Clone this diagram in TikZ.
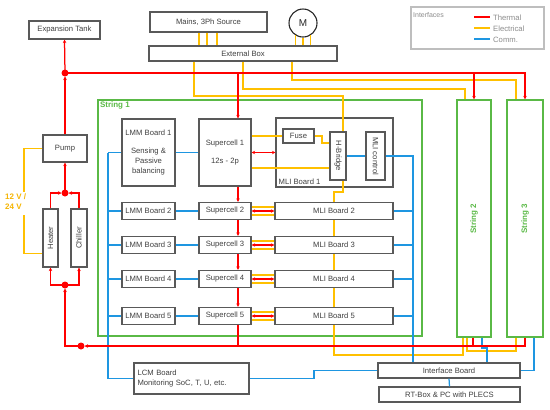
\documentclass[tikz,border=0pt]{standalone}
\usepackage{fontspec}
\usepackage{graphicx}
\setmainfont{Liberation Sans}
\usetikzlibrary{arrows.meta,calc}
\definecolor{txtc}{RGB}{64,64,64}
\definecolor{bordc}{RGB}{89,89,89}
\definecolor{thmc}{RGB}{255,0,0}
\definecolor{elec}{RGB}{255,192,0}
\definecolor{voltc}{RGB}{245,180,0}
\definecolor{comc}{RGB}{30,150,225}
\definecolor{grnc}{RGB}{90,185,70}
\definecolor{legc}{RGB}{140,140,140}
\definecolor{legb}{RGB}{190,190,190}
\begin{document}
\begin{tikzpicture}[x=1bp,y=-1bp,
 font=\fontsize{7.7}{10}\selectfont,
 box/.style={draw=bordc, line width=1.1bp, fill=white, text=txtc, inner sep=1pt, align=center},
 strbox/.style={draw=grnc, line width=1.2bp, text=grnc, inner sep=0pt, font=\fontsize{8}{10}\selectfont\bfseries},
 tl/.style={draw=thmc, line width=1.25bp},
 el/.style={draw=elec, line width=1.25bp},
 cl/.style={draw=comc, line width=1.25bp},
 legline/.style={line width=1.8bp},
 arrtip/.style={-{Stealth[length=3.5bp,width=3.5bp]}},
 darrtip/.style={{Stealth[length=3.5bp,width=3.5bp]}-{Stealth[length=3.5bp,width=3.5bp]}},
 jdot/.style={circle, fill=thmc, inner sep=0pt, minimum size=7bp},
]
\useasboundingbox (0,0) rectangle (550,409);

% helper coordinates
\coordinate (xr) at (238,0);
\coordinate (bb) at (108,0);
\coordinate (br) at (413,0);
\coordinate (ya) at (194,0);
\coordinate (yb) at (243,0);
\coordinate (yc) at (292,0);
\coordinate (yh) at (343,0);
\coordinate (ym) at (334,0);

% legend
\node[draw=legb, line width=1.1bp, fill=white, minimum width=133bp, minimum height=42bp, inner sep=0pt] (legend) at (477.5,28) {};
\coordinate (lgTs) at (474,17);
\coordinate (lgTe) at (490,17);
\coordinate (lgEs) at (474,28);
\coordinate (lgEe) at (490,28);
\coordinate (lgCs) at (474,39);
\coordinate (lgCe) at (490,39);
\draw[tl,legline] (lgTs) -- (lgTe);
\draw[el,legline] (lgEs) -- (lgEe);
\draw[cl,legline] (lgCs) -- (lgCe);
\node[anchor=west, text=legc, inner sep=0pt, font=\fontsize{7}{9}\selectfont] (lgI) at (413,15) {Interfaces};
\node[anchor=west, text=legc, inner sep=0pt] (lgT) at (493,17.5) {Thermal};
\node[anchor=west, text=legc, inner sep=0pt] (lgE) at (493,28.5) {Electrical};
\node[anchor=west, text=legc, inner sep=0pt] (lgC) at (493,39.5) {Comm.};

% top boxes
\node[box, minimum width=71bp, minimum height=18bp] (exp) at (64.5,30) {Expansion Tank};
\node[box, minimum width=117bp, minimum height=20bp] (mains) at (208.5,22) {Mains, 3Ph Source};
\node[circle, draw=black!85, line width=1.1bp, fill=white, text=black!85, minimum size=28bp, inner sep=0pt, font=\fontsize{10}{12}\selectfont] (m) at (303,23) {M};
\node[box, minimum width=188bp, minimum height=15bp] (ext) at (243,53.5) {External Box};

% thermal loop
\node[box, minimum width=44bp, minimum height=27bp] (pump) at (65,148.5) {Pump};
\node[box, minimum width=15bp, minimum height=58bp, inner sep=0pt] (heater) at (50.5,238) {\rotatebox{90}{Heater}};
\node[box, minimum width=16bp, minimum height=58bp, inner sep=0pt] (chiller) at (79,238) {\rotatebox{90}{Chiller}};
\node[text=voltc, font=\fontsize{8}{10}\selectfont\bfseries, align=left, anchor=west, inner sep=0pt] (volt) at (5,202) {12 V /\\24 V};
\coordinate (yv1) at (24,192);
\coordinate (yv2) at (24,215);

% strings
\node[draw=grnc, line width=1.2bp, minimum width=324bp, minimum height=236bp, inner sep=0pt] (s1) at (260,218) {};
\node[anchor=north west, text=grnc, inner sep=2.5pt, font=\fontsize{8}{10}\selectfont\bfseries] (s1lbl) at (s1.north west) {String 1};
\node[strbox, minimum width=34bp, minimum height=237bp] (s2) at (474,218.5) {\rotatebox{90}{String 2}};
\node[strbox, minimum width=36bp, minimum height=237bp] (s3) at (525,218.5) {\rotatebox{90}{String 3}};

% row 1
\node[box, minimum width=53bp, minimum height=67bp] (lmm1) at (148.5,152.5) {LMM Board 1\\[9pt]Sensing \&\\Passive\\balancing};
\node[box, minimum width=52bp, minimum height=67bp] (sc1) at (225,152.5) {Supercell 1\\[9pt]12s - 2p};
\node[box, minimum width=117bp, minimum height=69bp] (mli1) at (334.5,152.5) {};
\node[anchor=south west, text=txtc, inner sep=3pt] (mli1lbl) at (mli1.south west) {MLI Board 1};
\node[box, minimum width=31bp, minimum height=14bp] (fuse) at (298.5,136) {Fuse};
\node[box, minimum width=16bp, minimum height=48bp, inner sep=0pt] (hb) at (338,156) {\rotatebox{-90}{H-Bridge}};
\node[box, minimum width=19bp, minimum height=48bp, inner sep=0pt] (mlic) at (375.5,156) {\rotatebox{-90}{MLI control}};

% rows 2-5
\foreach \i/\yy in {2/211,3/245,4/279,5/316}{
  \node[box, minimum width=53bp, minimum height=17bp] (lmm\i) at (148.5,\yy) {LMM Board \i};
  \node[box, minimum width=52bp, minimum height=17bp] (sc\i) at (225,\yy) {Supercell \i};
  \node[box, minimum width=118bp, minimum height=17bp] (mli\i) at (334,\yy) {MLI Board \i};
}

% bottom boxes
\node[box, minimum width=142bp, minimum height=15bp] (iface) at (449,370.5) {Interface Board};
\node[box, minimum width=141bp, minimum height=15bp] (rtbox) at (449.5,394.5) {RT-Box \& PC with PLECS};
\node[box, minimum width=115bp, minimum height=31bp, text width=108bp, align=left] (lcm) at (191.5,378.5) {LCM Board\\Monitoring SoC, T, U, etc.};
\coordinate (lb) at (314,375);

% ---------------- connectors ----------------
% mains and motor to external box
\foreach \xx in {199,207,217}{ \draw[el] (mains.south -| \xx,0) -- (ext.north -| \xx,0); }
\draw[el] (m.-122) -- (m.-122 |- ext.north);
\draw[el] (m.south) -- (m.south |- ext.north);
\draw[el] (m.-58) -- (m.-58 |- ext.north);

% electrical from external box
\draw[el] (ext.south -| ya) -- (194,96) -- (343,96) -- (hb.north -| yh);
\draw[el] (ext.south -| yb) -- (243,89) -- (465,89) -- (s2.north -| 465,0);
\draw[el] (ext.south -| yc) -- (292,80) -- (516,80) -- (s3.north -| 516,0);
\draw[el] (hb.south -| yh) -- (343,192) -- (334,192) -- (mli2.north -| ym);
\draw[el] (mli2.south -| ym) -- (mli3.north -| ym);
\draw[el] (mli3.south -| ym) -- (mli4.north -| ym);
\draw[el] (mli4.south -| ym) -- (mli5.north -| ym);
\draw[el] (mli5.south -| ym) -- (334,355) -- (463,355) -- (s2.south -| 463,0);
\draw[el] (s2.south -| 467,0) -- (467,351) -- (516,351) -- (s3.south -| 516,0);

% inside MLI board 1
\draw[el] (sc1.east |- fuse.west) -- (fuse.west);
\draw[el] (fuse.east) -- (322,136) -- (322,143) -- (hb.west |- 0,143);
\draw[el] (sc1.east |- 0,168) -- (hb.west |- 0,168);
\draw[tl,darrtip] (sc1.east) -- (mli1.west);

% rows 2-5 links
\foreach \i in {2,3,4,5}{
  \draw[el] ($(sc\i.east)+(0,-4)$) -- ($(mli\i.west)+(0,-4)$);
  \draw[el] ($(sc\i.east)+(0,4)$) -- ($(mli\i.west)+(0,4)$);
  \draw[tl,darrtip] (sc\i.east) -- (mli\i.west);
}

% 12V / 24V supply
\draw[el] (pump.west) -| (yv1);
\draw[el] (yv2) |- ($(heater.south west)+(0,-14)$);

% communication
\draw[cl] (bb |- lmm1.west) -- (bb |- lcm.west) -- (lcm.west);
\foreach \i in {1,2,3,4,5}{
  \draw[cl] (bb |- lmm\i.west) -- (lmm\i.west);
  \draw[cl] (lmm\i.east) -- (sc\i.west);
}
\foreach \i in {2,3,4,5}{
  \draw[cl] (mli\i.east) -- (br |- mli\i.east);
}
\draw[cl] (hb.east) -- (mlic.west);
\draw[cl] (mlic.east) -| (iface.north -| br);
\draw[cl] (lcm.east) -| (lb) |- (iface.west);
\draw[cl] (s2.south -| 482,0) -- (482,348) -- (487,348) -- (iface.north -| 487,0);
\draw[cl] (s3.south -| 534,0) |- (iface.east);
\draw[cl] (iface.south) -- (rtbox.north);

% thermal
\coordinate (t1) at (65,73);
\coordinate (t2) at (65,193);
\coordinate (t3) at (65,285);
\coordinate (t4) at (81,346);
\draw[tl] (t1) -- (525,73) -- (525,90);
\draw[tl,arrtip] (525,90) -- (s3.north);
\draw[tl,arrtip] (t1 -| s2.north) -- (s2.north);
\draw[tl,arrtip] (t1 -| xr) -- (sc1.north -| xr);
\draw[tl,arrtip] (t1) -- (exp.south);
\draw[tl,arrtip] (pump.north) -- (65,76.5);
\draw[tl,arrtip] (sc1.south -| xr) -- (sc2.north -| xr);
\draw[tl,arrtip] (sc2.south -| xr) -- (sc3.north -| xr);
\draw[tl,arrtip] (sc3.south -| xr) -- (sc4.north -| xr);
\draw[tl,arrtip] (sc4.south -| xr) -- (sc5.north -| xr);
\draw[tl] (sc5.south -| xr) -- (xr |- t4);
\draw[tl] (s3.south) -- (525,346) -- (100,346);
\draw[tl,arrtip] (100,346) -- (84.5,346);
\draw[tl] (s2.south -| 473,0) -- (473,346);
\draw[tl] (t4) -- (65,346) -- (65,300);
\draw[tl,arrtip] (65,300) -- (65,288.5);
\draw[tl,arrtip] (t3) -| (heater.south);
\draw[tl,arrtip] (t3) -| (chiller.south);
\draw[tl,arrtip] (heater.north) |- (61.5,193);
\draw[tl,arrtip] (chiller.north) |- (68.5,193);
\draw[tl,arrtip] (t2) -- (pump.south);

% junction dots (on top)
\node[jdot] (j1) at (t1) {};
\node[jdot] (j2) at (t2) {};
\node[jdot] (j3) at (t3) {};
\node[jdot] (j4) at (t4) {};
\end{tikzpicture}
\end{document}
